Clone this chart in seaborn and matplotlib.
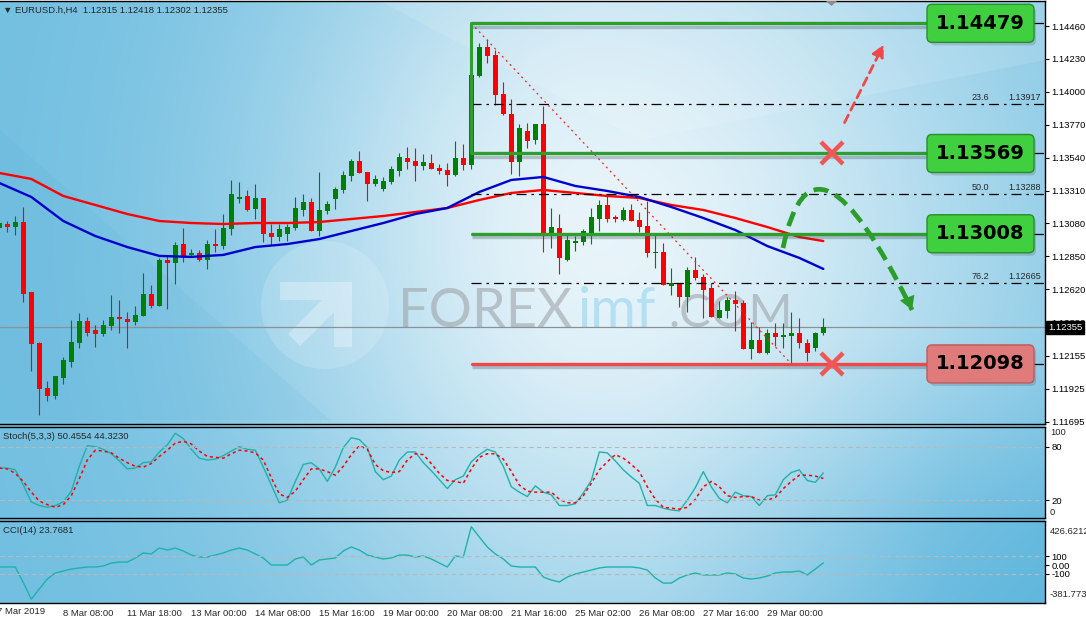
# -*- coding: utf-8 -*-
import numpy as np
import seaborn as sns
import matplotlib.pyplot as plt
import matplotlib.patheffects as pe
from matplotlib.patches import FancyBboxPatch, PathPatch, Circle, Polygon
from matplotlib.path import Path
from matplotlib.transforms import IdentityTransform, blended_transform_factory

sns.set_style('white')
plt.rcParams['font.family'] = ['Liberation Sans', 'DejaVu Sans']

# EURUSD H4 candles
opens = [1.13048, 1.13076, 1.13055, 1.13090, 1.12601, 1.12244, 1.11930, 1.11874, 1.12000, 1.12112,
         1.12244, 1.12398, 1.12335, 1.12307, 1.12363, 1.12426, 1.12412, 1.12391, 1.12433, 1.12587,
         1.12503, 1.12825, 1.12804, 1.12936, 1.12860, 1.12874, 1.12825, 1.12936, 1.12922, 1.13041,
         1.13251, 1.13272, 1.13181, 1.13258, 1.13013, 1.12985, 1.13006, 1.13048, 1.13174, 1.13230,
         1.13027, 1.13167, 1.13251, 1.13314, 1.13412, 1.13517, 1.13440, 1.13356, 1.13321, 1.13370,
         1.13447, 1.13538, 1.13517, 1.13482, 1.13503, 1.13468, 1.13454, 1.13419, 1.13538, 1.13489,
         1.14111, 1.14313, 1.14258, 1.13985, 1.13845, 1.13510, 1.13726, 1.13663, 1.13775, 1.13013,
         1.13048, 1.12825, 1.12943, 1.12950, 1.13013, 1.13111, 1.13209, 1.13125, 1.13104, 1.13174,
         1.13104, 1.13062, 1.12874, 1.12881, 1.12643, 1.12664, 1.12566, 1.12755, 1.12706, 1.12629,
         1.12419, 1.12468, 1.12545, 1.12524, 1.12202, 1.12265, 1.12175, 1.12314, 1.12286, 1.12293,
         1.12314, 1.12244, 1.12209, 1.12315]
highs = [1.13097, 1.13097, 1.13132, 1.13195, 1.12601, 1.12251, 1.11979, 1.12014, 1.12147, 1.12405,
         1.12454, 1.12426, 1.12370, 1.12405, 1.12580, 1.12545, 1.12461, 1.12503, 1.12734, 1.12650,
         1.12839, 1.12853, 1.12950, 1.13048, 1.12901, 1.12895, 1.12964, 1.13041, 1.13146, 1.13384,
         1.13370, 1.13314, 1.13356, 1.13258, 1.13076, 1.13076, 1.13076, 1.13265, 1.13286, 1.13258,
         1.13440, 1.13237, 1.13335, 1.13447, 1.13531, 1.13587, 1.13440, 1.13419, 1.13405, 1.13482,
         1.13573, 1.13614, 1.13607, 1.13566, 1.13566, 1.13496, 1.13503, 1.13656, 1.13635, 1.14479,
         1.14341, 1.14369, 1.14293, 1.14069, 1.13950, 1.13775, 1.13782, 1.13775, 1.13901, 1.13188,
         1.13146, 1.12999, 1.12992, 1.13041, 1.13188, 1.13244, 1.13286, 1.13139, 1.13195, 1.13216,
         1.13160, 1.13237, 1.12999, 1.12943, 1.12769, 1.12664, 1.12776, 1.12846, 1.12727, 1.12664,
         1.12538, 1.12566, 1.12608, 1.12545, 1.12391, 1.12356, 1.12342, 1.12384, 1.12384, 1.12461,
         1.12419, 1.12272, 1.12321, 1.12418]
lows = [1.13041, 1.13020, 1.12999, 1.12531, 1.12049, 1.11741, 1.11839, 1.11853, 1.11958, 1.12077,
        1.12209, 1.12293, 1.12216, 1.12293, 1.12335, 1.12314, 1.12209, 1.12370, 1.12433, 1.12489,
        1.12503, 1.12482, 1.12657, 1.12811, 1.12846, 1.12818, 1.12762, 1.12881, 1.12901, 1.12999,
        1.13223, 1.13167, 1.13111, 1.12950, 1.12929, 1.12957, 1.12957, 1.13034, 1.13132, 1.13027,
        1.12992, 1.13146, 1.13181, 1.13293, 1.13377, 1.13433, 1.13237, 1.13342, 1.13307, 1.13356,
        1.13412, 1.13461, 1.13377, 1.13454, 1.13461, 1.13426, 1.13342, 1.13412, 1.13454, 1.13461,
        1.14104, 1.14202, 1.13908, 1.13838, 1.13426, 1.13412, 1.13607, 1.13635, 1.12881, 1.12908,
        1.12727, 1.12818, 1.12888, 1.12929, 1.12936, 1.13027, 1.13090, 1.13090, 1.13097, 1.13097,
        1.13020, 1.12846, 1.12769, 1.12650, 1.12580, 1.12496, 1.12461, 1.12685, 1.12419, 1.12426,
        1.12419, 1.12419, 1.12328, 1.12202, 1.12133, 1.12175, 1.12168, 1.12223, 1.12209, 1.12098,
        1.12209, 1.12119, 1.12189, 1.12302]
closes = [1.13083, 1.13055, 1.13090, 1.12587, 1.12237, 1.11923, 1.11874, 1.12014, 1.12126, 1.12251,
          1.12398, 1.12314, 1.12307, 1.12370, 1.12426, 1.12412, 1.12391, 1.12440, 1.12587, 1.12503,
          1.12825, 1.12804, 1.12929, 1.12846, 1.12874, 1.12825, 1.12936, 1.12922, 1.13048, 1.13286,
          1.13265, 1.13174, 1.13258, 1.13006, 1.12985, 1.13041, 1.13055, 1.13188, 1.13230, 1.13027,
          1.13174, 1.13216, 1.13321, 1.13419, 1.13517, 1.13433, 1.13356, 1.13391, 1.13377, 1.13461,
          1.13545, 1.13510, 1.13482, 1.13510, 1.13461, 1.13447, 1.13419, 1.13538, 1.13489, 1.14118,
          1.14313, 1.14251, 1.13978, 1.13845, 1.13510, 1.13747, 1.13656, 1.13775, 1.13013, 1.13055,
          1.12839, 1.12964, 1.12957, 1.13027, 1.13125, 1.13209, 1.13111, 1.13111, 1.13174, 1.13097,
          1.13055, 1.12874, 1.12881, 1.12650, 1.12664, 1.12566, 1.12755, 1.12699, 1.12615, 1.12426,
          1.12475, 1.12545, 1.12517, 1.12202, 1.12265, 1.12175, 1.12314, 1.12286, 1.12300, 1.12314,
          1.12244, 1.12175, 1.12314, 1.12355]

# moving averages (read every 4 bars)
ma_bars = [0, 4, 8, 12, 16, 20, 24, 28, 32, 36, 40, 44, 48, 52, 56, 60, 64, 68, 72, 76, 80, 84, 88, 92, 96, 100, 103]
ma_red = [1.13433, 1.13391, 1.13272, 1.13209, 1.13146, 1.13097, 1.13083, 1.13076, 1.13083, 1.13083,
          1.13090, 1.13111, 1.13132, 1.13160, 1.13188, 1.13244, 1.13293, 1.13314, 1.13293, 1.13272,
          1.13258, 1.13209, 1.13174, 1.13118, 1.13055, 1.12985, 1.12957]
ma_blue = [1.13363, 1.13265, 1.13097, 1.12992, 1.12915, 1.12853, 1.12846, 1.12860, 1.12915, 1.12936,
           1.12971, 1.13027, 1.13083, 1.13146, 1.13188, 1.13300, 1.13384, 1.13405, 1.13342, 1.13307,
           1.13265, 1.13195, 1.13118, 1.13034, 1.12922, 1.12839, 1.12762]

# Stoch(5,3,3)
stoch_k = [56, 56, 54, 37, 18, 14, 12, 14, 18, 30,
           58, 81, 80, 77, 72, 64, 55, 56, 62, 63,
           74, 82, 95, 89, 77, 67, 65, 66, 70, 75,
           80, 77, 76, 57, 37, 17, 20, 41, 60, 62,
           55, 41, 57, 79, 90, 88, 79, 52, 43, 47,
           65, 74, 74, 62, 53, 43, 33, 43, 47, 63,
           71, 77, 74, 58, 35, 29, 24, 36, 29, 26,
           14, 14, 16, 28, 42, 74, 73, 64, 54, 46,
           39, 14, 14, 11, 9, 8, 20, 34, 52, 35,
           22, 17, 29, 25, 24, 14, 25, 26, 43, 51,
           54, 42, 40, 50.4554]
stoch_d = [56, 55, 50, 41, 29, 19, 15, 12, 15, 25,
           44, 65, 76, 75, 73, 67, 62, 58, 57, 61,
           69, 76, 84, 86, 83, 75, 69, 68, 67, 72,
           76, 75, 73, 65, 45, 27, 23, 30, 43, 55,
           55, 52, 48, 58, 71, 81, 77, 60, 53, 51,
           52, 65, 72, 71, 61, 50, 42, 41, 39, 55,
           68, 72, 72, 66, 52, 37, 30, 29, 29, 29,
           21, 17, 17, 25, 39, 54, 63, 71, 67, 60,
           52, 35, 21, 12, 11, 10, 12, 21, 35, 41,
           35, 25, 23, 24, 24, 20, 20, 23, 33, 41,
           48, 48, 47, 44.3230]

# CCI(14)
cci = [-22, -22, -22, -195, -381.773, -267, -156, -89, -67, -45,
       -33, -22, -22, -11, 22, 33, 33, 78, 134, 123,
       189, 167, 189, 156, 111, 89, 89, 111, 134, 167,
       189, 167, 123, 78, 0, 0, 0, 67, 89, 0,
       56, 67, 78, 156, 201, 167, 111, 89, 67, 78,
       111, 111, 89, 100, 67, 22, -22, 100, 89, 426.621,
       312, 201, 123, 67, -11, -22, -22, -22, -134, -167,
       -189, -134, -100, -78, -56, -33, -22, -22, -22, -22,
       -33, -56, -145, -201, -201, -145, -111, -89, -111, -111,
       -111, -89, -100, -145, -156, -145, -123, -89, -78, -78,
       -67, -111, -45, 23.7681]

price_ticks = [1.14460, 1.14230, 1.14000, 1.13770, 1.13540, 1.13310, 1.13080,
               1.12850, 1.12620, 1.12390, 1.12155, 1.11925, 1.11695]
last_price = 1.12355

level_prices = [1.14479, 1.13569, 1.13008, 1.12098]
level_colors = ['#2f9e2f', '#2f9e2f', '#2f9e2f', '#f04848']
box_colors = ['#3fcf3f', '#3fcf3f', '#3fcf3f', '#e07b7b']
fib_prices = [1.14479, 1.13917, 1.13569, 1.13288, 1.13008, 1.12665, 1.12098]
fib_labels = {'23.6': 1.13917, '50.0': 1.13288, '76.2': 1.12665}
swing_bars = [59, 99]
swing_prices = [1.14479, 1.12098]

xtick_bars = [8, 16, 24, 32, 40, 48, 56, 64, 72, 80, 88, 96]
xtick_labels = ['8 Mar 08:00', '11 Mar 18:00', '13 Mar 00:00', '14 Mar 08:00', '15 Mar 16:00',
                '19 Mar 00:00', '20 Mar 08:00', '21 Mar 16:00', '25 Mar 02:00', '26 Mar 08:00',
                '27 Mar 16:00', '29 Mar 00:00']

FS = 6.8
W, H = 1086, 624
fig = plt.figure(figsize=(W / 100, H / 100), dpi=100)
fig.patch.set_facecolor('white')


def frame(x0, y0, x1, y1):
    return [x0 / W, 1 - y1 / H, (x1 - x0) / W, (y1 - y0) / H]


# background gradient + watermark
bg = fig.add_axes(frame(0, 1, 1045, 603), zorder=-5)
gx, gy = np.meshgrid(np.linspace(0, 1045, 523), np.linspace(0, 603, 302))
sx = np.where(gx < 600, 330.0, 430.0)
t = 0.12 + 0.85 * np.exp(-((gx - 600) / sx) ** 2 - ((gy - 230) / 420) ** 2)
t -= 0.25 * np.clip((gy - 330) / 200, 0, 1) * np.clip((gx - 650) / 300, 0, 1)
dark = np.array([96, 183, 221]) / 255
light = np.array([236, 246, 251]) / 255
img = dark + np.clip(t, 0, 1)[..., None] * (light - dark)
bg.imshow(img, extent=[0, 1045, 603, 1], aspect='auto', interpolation='bilinear')
bg.add_patch(Polygon([(380, 1), (1045, 1), (1045, 60), (640, 140)], fc='white', alpha=0.12, lw=0))
bg.add_patch(Polygon([(0, 130), (330, 420), (0, 420)], fc='#4aa8d4', alpha=0.10, lw=0))
bg.add_patch(Circle((325, 305), 64, fc='white', alpha=0.16, lw=0))
bg.add_patch(Polygon([(280, 282), (352, 282), (352, 347), (334, 347), (334, 312), (300, 346), (288, 334),
                      (322, 300), (280, 300)], fc='white', alpha=0.3, lw=0))
wm = ['Lato', 'DejaVu Sans']
bg.text(398, 327, 'FOREX', fontsize=39, color='#9ea4a8', alpha=0.6, va='baseline', family=wm)
bg.text(578, 327, 'imf', fontsize=40, color='#b0def2', alpha=0.9, va='baseline', family=wm)
bg.text(668, 327, '.COM', fontsize=34, color='#9ea4a8', alpha=0.6, va='baseline', family=wm)
bg.set_xlim(0, 1045)
bg.set_ylim(603, 1)
bg.axis('off')

ax = fig.add_axes(frame(0, 1, 1045, 424))
ax_st = fig.add_axes(frame(0, 427, 1045, 518))
ax_cci = fig.add_axes(frame(0, 521, 1045, 603))
xlim = (0.0875, 130.71)

for a in (ax, ax_st, ax_cci):
    a.set_facecolor('none')
    a.set_xlim(*xlim)
    for s in ('top', 'right', 'bottom'):
        a.spines[s].set_color('black')
        a.spines[s].set_linewidth(1)
    a.spines['left'].set_visible(False)
    a.yaxis.tick_right()
    a.tick_params(axis='y', direction='out', length=3, width=0.8, pad=1.5, labelsize=FS, colors='black')

# candles
bars = np.arange(len(opens))
o, h, l, c = map(np.array, (opens, highs, lows, closes))
col = np.where(c >= o, '#008000', '#ff0000')
ax.axhline(last_price, color='#8a9197', lw=0.9, zorder=2)
ax.vlines(bars, l, h, colors=col, lw=0.8, zorder=3)
ax.bar(bars, np.maximum(np.abs(c - o), 0.00004), bottom=np.minimum(o, c), width=0.7,
       color=col, lw=0, zorder=4)

sns.lineplot(x=ma_bars, y=ma_red, ax=ax, color='#ff0000', linewidth=1.7, zorder=5)
sns.lineplot(x=ma_bars, y=ma_blue, ax=ax, color='#0000cc', linewidth=1.7, zorder=5)

# fibonacci
for p in fib_prices:
    ax.plot([swing_bars[0], xlim[1]], [p, p], color='black', lw=0.9, ls=(0, (8, 4, 2, 4)), zorder=6)
ax.plot(swing_bars, swing_prices, color='#ff2020', lw=0.9, ls=(0, (1.5, 3)), zorder=6)
tb = blended_transform_factory(ax.transAxes, ax.transData)
for name, p in fib_labels.items():
    ax.text(972 / 1045, p + 0.00012, name, transform=tb, fontsize=6.5, va='bottom', ha='left', zorder=8)
    ax.text(1041 / 1045, p + 0.00012, f'{p:.5f}', transform=tb, fontsize=6.5, va='bottom', ha='right', zorder=8)

# levels
shadow = [pe.SimpleLineShadow(offset=(0.5, -2.5), shadow_color='#40505a', alpha=0.3), pe.Normal()]
for p, lc in zip(level_prices, level_colors):
    ax.plot([swing_bars[0], 115.95], [p, p], color=lc, lw=2.4, solid_capstyle='butt', zorder=7,
            path_effects=shadow)
ax.plot([swing_bars[0], swing_bars[0]], level_prices[:2], color=level_colors[0], lw=2.2, zorder=7)

# crosses and arrows
ax.plot([104.1, 104.1], [level_prices[1], level_prices[3]], ls='none', marker='x', ms=16, mew=3.2,
        color='#f25555', zorder=9)
ax.annotate('', xy=(110.7, 1.14348), xytext=(105.5, 1.13768),
            arrowprops=dict(arrowstyle='-|>,head_length=0.5,head_width=0.25', color='#f04848', lw=2,
                            ls=(0, (3, 2)), mutation_scale=14), zorder=9)
curve = Path([(97.96, 1.12908), (101.65, 1.13908), (114.09, 1.12475)], [Path.MOVETO, Path.CURVE3, Path.CURVE3])
ax.add_patch(PathPatch(curve, fill=False, ec='#2a9d2a', lw=3.4, ls=(0, (3.2, 1.6)), zorder=9))
ax.annotate('', xy=(114.09, 1.12475), xytext=(113.0, 1.12630),
            arrowprops=dict(arrowstyle='-|>,head_length=0.6,head_width=0.35', color='#2a9d2a', lw=0,
                            mutation_scale=16, shrinkA=0, shrinkB=0), zorder=9)

ax.set_ylim(1.11678, 1.14635)
ax.set_yticks(price_ticks)
ax.set_yticklabels([f'{v:.5f}' for v in price_ticks])
ax.set_xticks([])
ax.set_xlabel('')
ax.set_ylabel('')
ax.annotate(f'{last_price:.5f}', xy=(1.0, last_price), xycoords=tb, xytext=(2.2, 0),
            textcoords='offset points', va='center', ha='left', fontsize=FS, color='white',
            bbox=dict(boxstyle='square,pad=0.2', fc='black', ec='black'), annotation_clip=False, zorder=10)

# level boxes (pixel space)
fig.canvas.draw()
for p, fc in zip(level_prices, box_colors):
    yd = ax.transData.transform((0, p))[1]
    ec = '#2a8f2a' if fc != '#e07b7b' else '#c05a5a'
    fig.add_artist(FancyBboxPatch((930, yd - 22), 106, 38, boxstyle='round,pad=0,rounding_size=5',
                                  fc='#50606a', ec='none', alpha=0.25, transform=IdentityTransform()))
    fig.add_artist(FancyBboxPatch((927, yd - 19), 107, 38, boxstyle='round,pad=0,rounding_size=5',
                                  fc=fc, ec=ec, lw=1, transform=IdentityTransform()))
    fig.text(980.5, yd, f'{p:.5f}', transform=IdentityTransform(), ha='center', va='center',
             fontsize=14, fontweight='bold', color='black', family=['DejaVu Sans'])

# stochastic panel
sns.lineplot(x=bars, y=stoch_k, ax=ax_st, color='#20b2aa', linewidth=1)
sns.lineplot(x=bars, y=stoch_d, ax=ax_st, color='#ff0000', linewidth=1.1, linestyle=(0, (2, 2)))
for v in (80, 20):
    ax_st.axhline(v, color='#b9b9b9', lw=0.8, ls=(0, (4, 3)))
ax_st.set_ylim(0, 102)
ax_st.set_yticks([80, 20])
ax_st.set_yticklabels(['80', '20'])
ax_st.set_xticks([])
ax_st.set_xlabel('')
ax_st.set_ylabel('')
ts = blended_transform_factory(ax_st.transAxes, ax_st.transData)
ax_st.text(1.0048, 100.5, '100', transform=ts, fontsize=FS, va='top', ha='left', clip_on=False)
ax_st.text(1.0048, 1, '0', transform=ts, fontsize=FS, va='bottom', ha='left', clip_on=False)
ax_st.text(0.003, 0.9, 'Stoch(5,3,3) 50.4554 44.3230', transform=ax_st.transAxes, fontsize=FS,
           va='center', ha='left')

# CCI panel
sns.lineplot(x=bars, y=cci, ax=ax_cci, color='#20b2aa', linewidth=1)
for v in (100, -100):
    ax_cci.axhline(v, color='#b9b9b9', lw=0.8, ls=(0, (4, 3)))
ax_cci.set_ylim(-423, 490)
ax_cci.set_yticks([100, 0, -100])
ax_cci.set_yticklabels(['100', '0.00', '-100'])
tc = blended_transform_factory(ax_cci.transAxes, ax_cci.transData)
ax_cci.text(1.0048, 426.6212, '426.6212', transform=tc, fontsize=FS, va='top', ha='left', clip_on=False)
ax_cci.text(1.0048, -381.773, '-381.773', transform=tc, fontsize=FS, va='bottom', ha='left', clip_on=False)
ax_cci.text(0.003, 0.88, 'CCI(14) 23.7681', transform=ax_cci.transAxes, fontsize=FS,
            va='center', ha='left')
ax_cci.set_xticks(xtick_bars)
ax_cci.set_xticklabels(xtick_labels, ha='left')
ax_cci.tick_params(axis='x', direction='out', length=3, width=0.8, pad=1.5, labelsize=FS)
ax_cci.set_xlabel('')
ax_cci.set_ylabel('')
fig.text(-3 / W, 1 - 611 / H, '7 Mar 2019', fontsize=FS, va='center', ha='left')

# header
fig.text(3 / W, 1 - 10 / H, '\u25bc EURUSD.h,H4  1.12315 1.12418 1.12302 1.12355', fontsize=FS,
         va='center', ha='left')
fig.add_artist(Polygon([(826, H - 1), (837, H - 1), (831.5, H - 6)], closed=True, fc='#8c8c8c',
                       ec='none', transform=IdentityTransform()))

fig.savefig('out.png', dpi=100)
